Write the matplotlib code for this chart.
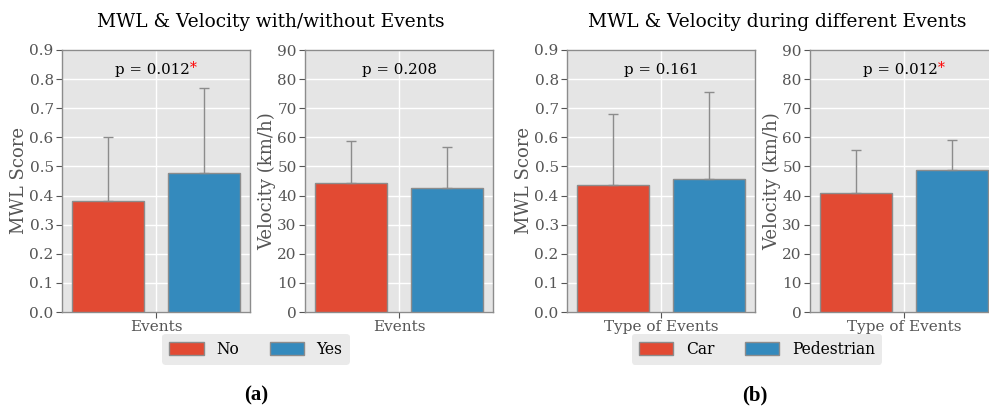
import matplotlib
matplotlib.use("Agg")
import matplotlib.pyplot as plt
import numpy as np

plt.style.use("ggplot")
plt.rcParams["font.family"] = ["DejaVu Serif"]

# panel (a): with / without events
labels_a = ["No", "Yes"]
mwl_a = [0.381, 0.478]
mwl_a_err = [0.220, 0.291]
vel_a = [44.3, 42.7]
vel_a_err = [14.4, 13.9]
p_a = ["p = 0.012", "p = 0.208"]
sig_a = [True, False]

# panel (b): type of events
labels_b = ["Car", "Pedestrian"]
mwl_b = [0.436, 0.458]
mwl_b_err = [0.245, 0.297]
vel_b = [40.9, 48.7]
vel_b_err = [14.9, 10.4]
p_b = ["p = 0.161", "p = 0.012"]
sig_b = [False, True]

colors = ["#E24A33", "#348ABD"]
W, H = 989, 409


def bar_panel(fig, left, values, errs, xlabel, ylabel, ylim, yticks, ptext, sig):
    ax = fig.add_axes([left / W, 1 - 312 / H, 188 / W, 262 / H])
    xs = [-0.2, 0.2]
    bars = []
    for x, v, e, c in zip(xs, values, errs, colors):
        b = ax.bar(x, v, width=0.3, color=c, edgecolor="#8c8c8c", linewidth=1.0,
                   yerr=[[0], [e]], error_kw=dict(ecolor="#8c8c8c", elinewidth=1.0,
                                                  capsize=3.5, capthick=1.0),
                   zorder=3)
        bars.append(b)
    ax.set_xlim(-0.39, 0.39)
    ax.set_ylim(*ylim)
    ax.set_yticks(yticks)
    ax.set_xticks([0])
    ax.set_xticklabels([xlabel])
    ax.set_ylabel(ylabel, fontsize=13, color="#555555", labelpad=1)
    ax.tick_params(axis="both", labelsize=11, colors="#555555", length=4,
                   direction="out")
    ax.tick_params(axis="y", pad=2)
    ax.tick_params(axis="x", pad=2)
    for s in ax.spines.values():
        s.set_visible(True)
        s.set_color("#8c8c8c")
        s.set_linewidth(1.0)
    ax.grid(True, color="white", linewidth=1.0)
    ax.set_axisbelow(True)
    xpos = 0.48 if sig else 0.5
    t = ax.text(xpos, 0.925, ptext, transform=ax.transAxes, ha="center", va="center",
                fontsize=10.8, color="black")
    if sig:
        ax.annotate("*", xy=(1, 1.1), xycoords=t, ha="left", va="top",
                    fontsize=10, color="red")
    return ax, bars


fig = plt.figure(figsize=(W / 100, H / 100), dpi=100)
fig.patch.set_facecolor("white")

ax1, bars = bar_panel(fig, 62, mwl_a, mwl_a_err, "Events", "MWL Score", (0, 0.9),
                      np.arange(0, 0.91, 0.1), p_a[0], sig_a[0])
ax1.set_yticklabels([f"{v:.1f}" for v in np.arange(0, 0.91, 0.1)])
ax2, _ = bar_panel(fig, 305, vel_a, vel_a_err, "Events", "Velocity (km/h)", (0, 90),
                   np.arange(0, 91, 10), p_a[1], sig_a[1])
ax3, bars_b = bar_panel(fig, 567, mwl_b, mwl_b_err, "Type of Events", "MWL Score", (0, 0.9),
                        np.arange(0, 0.91, 0.1), p_b[0], sig_b[0])
ax3.set_yticklabels([f"{v:.1f}" for v in np.arange(0, 0.91, 0.1)])
ax4, _ = bar_panel(fig, 810, vel_b, vel_b_err, "Type of Events", "Velocity (km/h)", (0, 90),
                   np.arange(0, 91, 10), p_b[1], sig_b[1])

fig.text(271 / W, 1 - 22 / H, "MWL & Velocity with/without Events", ha="center",
         va="center", fontsize=13.4)
fig.text(777 / W, 1 - 22 / H, "MWL & Velocity during different Events", ha="center",
         va="center", fontsize=13.4)

leg_kw = dict(ncol=2, fontsize=11.2, frameon=True, facecolor="#E5E5E5", edgecolor="none",
              handlelength=2.2, handleheight=0.9, columnspacing=2.0, borderpad=0.45,
              handletextpad=0.8, loc="center")
fig.legend([b[0] for b in bars], labels_a, bbox_to_anchor=(256 / W, 1 - 349 / H), **leg_kw)
fig.legend([b[0] for b in bars_b], labels_b, bbox_to_anchor=(757 / W, 1 - 349 / H), **leg_kw)

fig.text(256 / W, 1 - 395 / H, "(a)", ha="center", va="center", fontsize=15,
         fontweight="bold", family="Liberation Serif")
fig.text(755 / W, 1 - 395 / H, "(b)", ha="center", va="center", fontsize=15,
         fontweight="bold", family="Liberation Serif")

fig.savefig("out.png", dpi=100)
